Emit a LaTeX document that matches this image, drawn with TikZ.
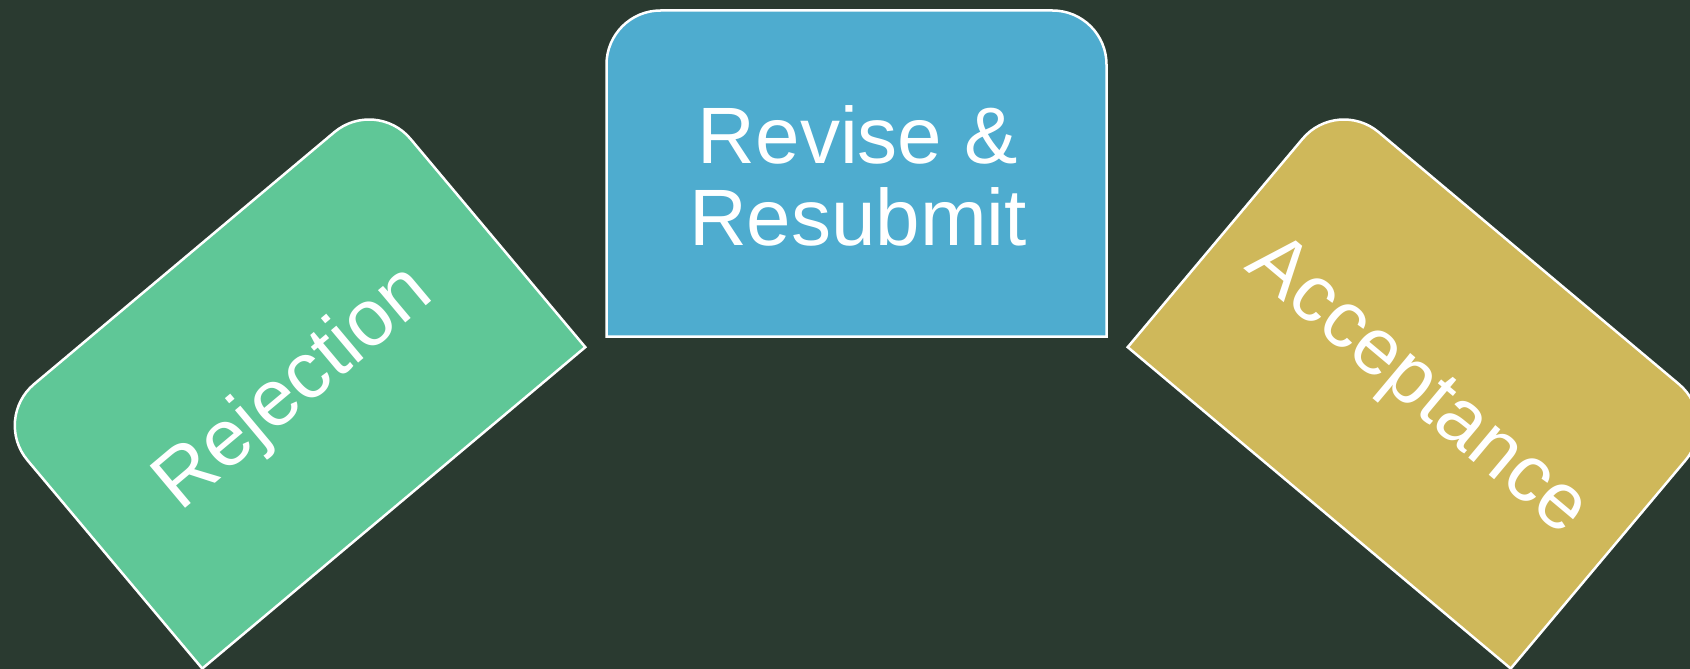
\documentclass[tikz,border=0pt]{standalone}
\usepackage{fontspec}
\setmainfont{Liberation Sans}
\definecolor{bgc}{HTML}{2A3A30}
\definecolor{rejc}{HTML}{5FC797}
\definecolor{revc}{HTML}{4EACCF}
\definecolor{accc}{HTML}{CFB85A}
\begin{document}
\begin{tikzpicture}[x=1pt,y=1pt,
  card/.style={draw=white, line width=2.5pt, line join=miter},
  cardtext/.style={text=white, align=center, inner sep=0pt, font=\fontsize{80}{82}\selectfont}]
\fill[bgc] (0,0) rectangle (1690,-669);
\useasboundingbox (0,0) rectangle (1690,-669);
% Revise & Resubmit
\begin{scope}[shift={(856.5,-173.5)}]
  \filldraw[card, fill=revc] (-250,-163) -- (250,-163) -- (250,109) arc[start angle=0,end angle=90,radius=54] -- (-196,163) arc[start angle=90,end angle=180,radius=54] -- cycle;
\end{scope}
\node[cardtext] (rev) at (858,-176) {Revise \&\\Resubmit};
% Rejection
\begin{scope}[shift={(289,-383)}, rotate=40]
  \filldraw[card, fill=rejc] (-250,-163) -- (250,-163) -- (250,109) arc[start angle=0,end angle=90,radius=54] -- (-196,163) arc[start angle=90,end angle=180,radius=54] -- cycle;
\end{scope}
\node[cardtext, rotate=40] (rej) at (295,-389) {Rejection};
% Acceptance
\begin{scope}[shift={(1424,-383)}, rotate=-40]
  \filldraw[card, fill=accc] (-250,-163) -- (250,-163) -- (250,109) arc[start angle=0,end angle=90,radius=54] -- (-196,163) arc[start angle=90,end angle=180,radius=54] -- cycle;
\end{scope}
\node[cardtext, rotate=-40] (acc) at (1416,-388) {Acceptance};
\end{tikzpicture}
\end{document}
